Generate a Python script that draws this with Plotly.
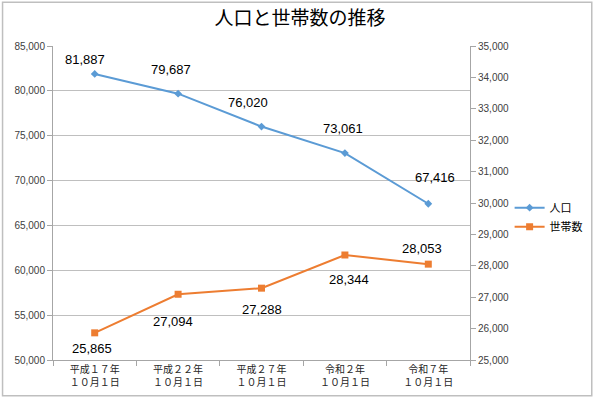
import plotly.graph_objects as go

categories = ["平成１７年<br>１０月１日", "平成２２年<br>１０月１日", "平成２７年<br>１０月１日",
              "令和２年<br>１０月１日", "令和７年<br>１０月１日"]
population = [81887, 79687, 76020, 73061, 67416]
households = [25865, 27094, 27288, 28344, 28053]

pop_label_shift = [(-10, 14), (-7, 24), (-14, 24), (-2, 25), (7, 26)]
hh_label_shift = [(-3, -16), (-5, -27), (0, -21), (4, -24), (-6, 16)]

BLUE = "#5B9BD5"
ORANGE = "#ED7D31"
FONT = "Liberation Sans, Arial, Noto Sans CJK JP"
CJK = "Noto Sans CJK JP, Liberation Sans"

fig = go.Figure()
fig.add_trace(go.Scatter(x=categories, y=population, name="人口", mode="lines+markers",
                         line=dict(color=BLUE, width=2),
                         marker=dict(symbol="diamond", size=6, color=BLUE)))
fig.add_trace(go.Scatter(x=categories, y=households, name="世帯数", mode="lines+markers",
                         yaxis="y2", line=dict(color=ORANGE, width=2),
                         marker=dict(symbol="square", size=7, color=ORANGE)))

for c, v, (dx, dy) in zip(categories, population, pop_label_shift):
    fig.add_annotation(x=c, y=v, text=f"{v:,}", showarrow=False, xshift=dx, yshift=dy,
                       font=dict(family=FONT, size=13, color="#000000"))
for c, v, (dx, dy) in zip(categories, households, hh_label_shift):
    fig.add_annotation(x=c, y=v, yref="y2", text=f"{v:,}", showarrow=False, xshift=dx, yshift=dy,
                       font=dict(family=FONT, size=13, color="#000000"))

fig.add_shape(type="rect", xref="paper", yref="paper", x0=-0.121, x1=1.292, y0=-0.114, y1=1.139,
              line=dict(color="#BFBFBF", width=1.5), fillcolor="rgba(0,0,0,0)", layer="below")

fig.update_layout(
    width=600, height=401,
    margin=dict(l=53, r=126, t=46, b=39),
    paper_bgcolor="white", plot_bgcolor="white",
    title=dict(text="人口と世帯数の推移", x=0.5, xanchor="center", y=0.955, yanchor="middle",
               font=dict(family=CJK, size=19, color="#000000")),
    xaxis=dict(type="category", tickson="boundaries", ticks="outside", ticklen=5,
               tickcolor="#A6A6A6", showline=True, linecolor="#A6A6A6", showgrid=False,
               tickfont=dict(family=CJK, size=10, color="#262626"), range=[-0.5, 4.5]),
    yaxis=dict(range=[50000, 85000], dtick=5000, tickformat=",", ticks="outside", ticklen=5,
               tickcolor="#A6A6A6", showline=True, linecolor="#A6A6A6",
               gridcolor="#BFBFBF", gridwidth=1, zeroline=False,
               tickfont=dict(family=FONT, size=10, color="#404040")),
    yaxis2=dict(range=[25000, 35000], dtick=1000, tickformat=",", overlaying="y", side="right",
                ticks="outside", ticklen=5, tickcolor="#A6A6A6", showline=True,
                linecolor="#A6A6A6", showgrid=False, zeroline=False,
                tickfont=dict(family=FONT, size=10, color="#404040")),
    legend=dict(x=1.095, y=0.455, xanchor="left", yanchor="middle", bgcolor="rgba(0,0,0,0)",
                font=dict(family=CJK, size=11, color="#000000"), tracegroupgap=2),
    showlegend=True,
)

fig.write_html("out.html")
